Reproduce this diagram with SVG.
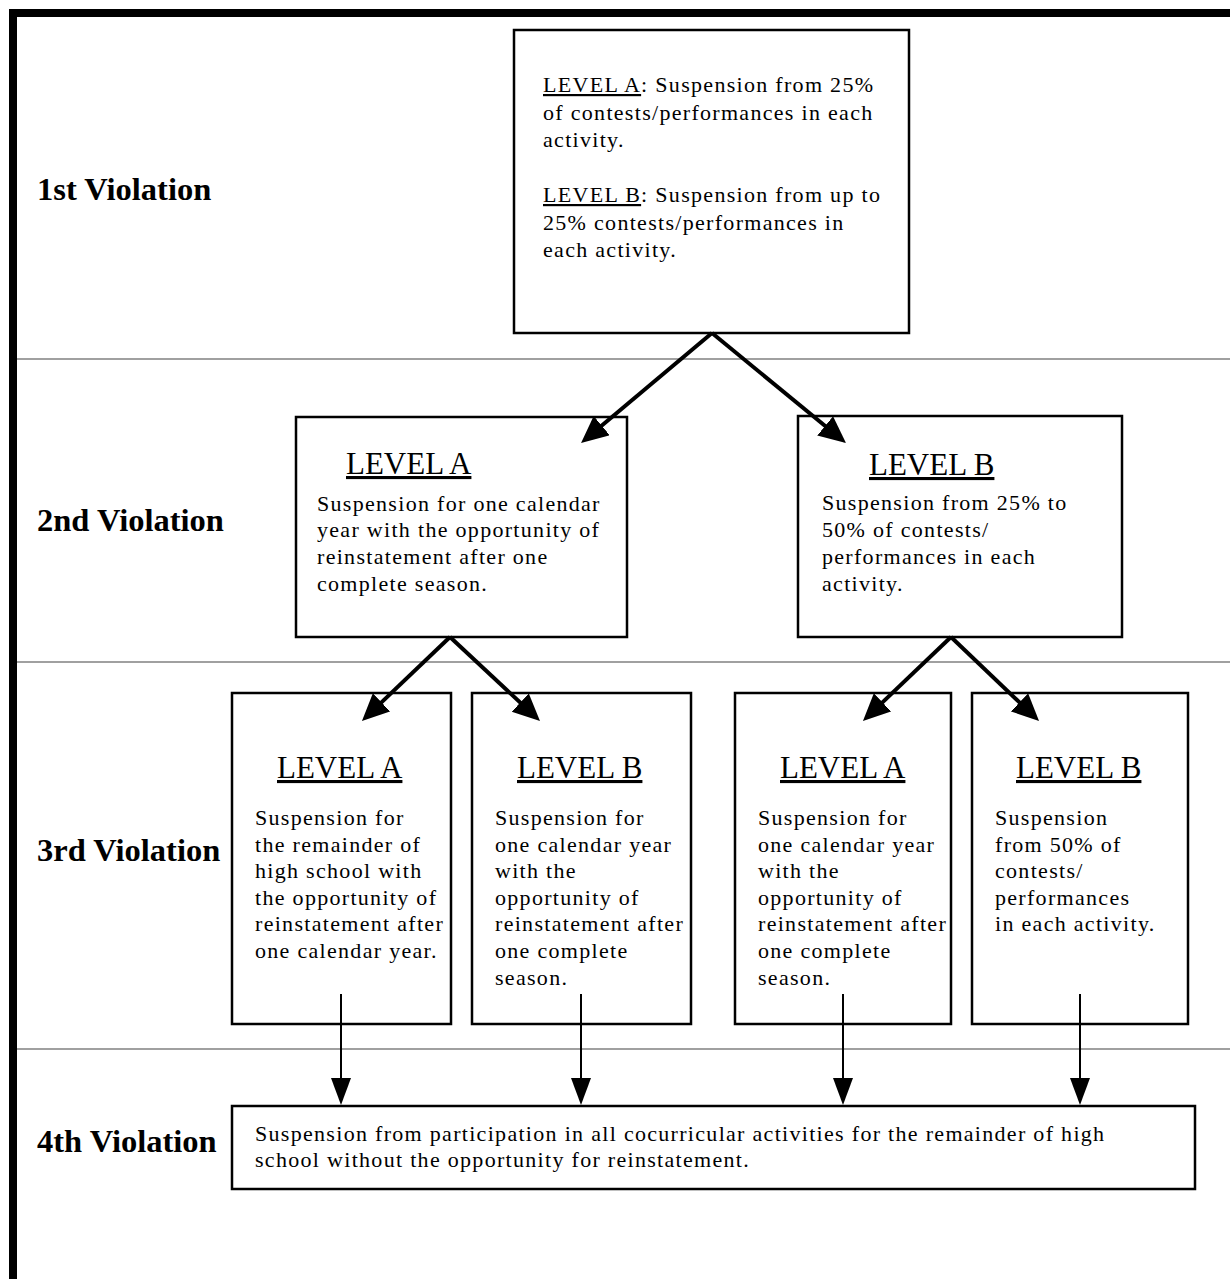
<svg xmlns="http://www.w3.org/2000/svg" width="1230" height="1279" viewBox="0 0 1230 1279">
<style>
  .box{fill:#fff;stroke:#000;stroke-width:2.5}
  .sep{stroke:#808080;stroke-width:1.5}
  .t{font-family:"Liberation Serif","Times New Roman",serif;fill:#000}
  .body{font-size:22px;letter-spacing:1.3px}
  .head{font-size:31px;text-decoration:underline}
  .u{text-decoration:underline}
  .lab{font-size:32.5px;font-weight:bold}
  .big{stroke:#000;stroke-width:4;fill:none}
  .thin{stroke:#000;stroke-width:2;fill:none}
</style>
<defs>
  <marker id="ah" markerUnits="userSpaceOnUse" markerWidth="28" markerHeight="26" refX="8" refY="12.5" orient="auto">
    <path d="M0,0 L27,12.5 L0,25 z" fill="#000"/>
  </marker>
  <marker id="ahs" markerUnits="userSpaceOnUse" markerWidth="28" markerHeight="22" refX="8" refY="10" orient="auto">
    <path d="M0,0 L27,10 L0,20 z" fill="#000"/>
  </marker>
</defs>
<rect width="1230" height="1279" fill="#fff"/>
<g id="frame">
  <rect x="9" y="9" width="1221" height="8" fill="#000"/>
  <rect x="9" y="9" width="8" height="1270" fill="#000"/>
  <line class="sep" x1="17" y1="359" x2="1230" y2="359"/>
  <line class="sep" x1="17" y1="662" x2="1230" y2="662"/>
  <line class="sep" x1="17" y1="1049" x2="1230" y2="1049"/>
</g>
<g id="labels" class="t lab">
  <text x="37" y="200">1st Violation</text>
  <text x="37" y="531">2nd Violation</text>
  <text x="37" y="861">3rd Violation</text>
  <text x="37" y="1152">4th Violation</text>
</g>
<g id="v1">
  <rect class="box" x="514" y="30" width="395" height="303"/>
  <g class="t body">
    <text x="543" y="92"><tspan class="u">LEVEL A</tspan>:  Suspension from 25%</text>
    <text x="543" y="120">of contests/performances in each</text>
    <text x="543" y="147">activity.</text>
    <text x="543" y="202"><tspan class="u">LEVEL B</tspan>:  Suspension from up to</text>
    <text x="543" y="230">25% contests/performances in</text>
    <text x="543" y="257">each activity.</text>
  </g>
</g>
<g id="v2a">
  <rect class="box" x="296" y="417" width="331" height="220"/>
  <text class="t head" x="346" y="474">LEVEL A</text>
  <g class="t body">
    <text x="317" y="511">Suspension for one calendar</text>
    <text x="317" y="537">year with the opportunity of</text>
    <text x="317" y="564">reinstatement after one</text>
    <text x="317" y="591">complete season.</text>
  </g>
</g>
<g id="v2b">
  <rect class="box" x="798" y="416" width="324" height="221"/>
  <text class="t head" x="869" y="475">LEVEL B</text>
  <g class="t body">
    <text x="822" y="510">Suspension from 25% to</text>
    <text x="822" y="537">50% of contests/</text>
    <text x="822" y="564">performances in each</text>
    <text x="822" y="591">activity.</text>
  </g>
</g>
<g id="v3a">
  <rect class="box" x="232" y="693" width="219" height="331"/>
  <text class="t head" x="277" y="778">LEVEL A</text>
  <g class="t body">
    <text x="255" y="825">Suspension for</text>
    <text x="255" y="852">the remainder of</text>
    <text x="255" y="878">high school with</text>
    <text x="255" y="905">the opportunity of</text>
    <text x="255" y="931">reinstatement after</text>
    <text x="255" y="958">one calendar year.</text>
  </g>
</g>
<g id="v3b">
  <rect class="box" x="472" y="693" width="219" height="331"/>
  <text class="t head" x="517" y="778">LEVEL B</text>
  <g class="t body">
    <text x="495" y="825">Suspension for</text>
    <text x="495" y="852">one calendar year</text>
    <text x="495" y="878">with the</text>
    <text x="495" y="905">opportunity of</text>
    <text x="495" y="931">reinstatement after</text>
    <text x="495" y="958">one complete</text>
    <text x="495" y="985">season.</text>
  </g>
</g>
<g id="v3c">
  <rect class="box" x="735" y="693" width="216" height="331"/>
  <text class="t head" x="780" y="778">LEVEL A</text>
  <g class="t body">
    <text x="758" y="825">Suspension for</text>
    <text x="758" y="852">one calendar year</text>
    <text x="758" y="878">with the</text>
    <text x="758" y="905">opportunity of</text>
    <text x="758" y="931">reinstatement after</text>
    <text x="758" y="958">one complete</text>
    <text x="758" y="985">season.</text>
  </g>
</g>
<g id="v3d">
  <rect class="box" x="972" y="693" width="216" height="331"/>
  <text class="t head" x="1016" y="778">LEVEL B</text>
  <g class="t body">
    <text x="995" y="825">Suspension</text>
    <text x="995" y="852">from 50% of</text>
    <text x="995" y="878">contests/</text>
    <text x="995" y="905">performances</text>
    <text x="995" y="931">in each activity.</text>
  </g>
</g>
<g id="v4">
  <rect class="box" x="232" y="1106" width="963" height="83"/>
  <g class="t body">
    <text x="255" y="1141">Suspension from participation in all cocurricular activities for the remainder of high</text>
    <text x="255" y="1167">school without the opportunity for reinstatement.</text>
  </g>
</g>
<g id="connectors">
  <line class="big" x1="712" y1="333" x2="595.6" y2="430.8" marker-end="url(#ah)"/>
  <line class="big" x1="712" y1="333" x2="831.3" y2="431" marker-end="url(#ah)"/>
  <line class="big" x1="450" y1="637" x2="375.7" y2="707.9" marker-end="url(#ah)"/>
  <line class="big" x1="450" y1="637" x2="526.1" y2="708" marker-end="url(#ah)"/>
  <line class="big" x1="951" y1="637" x2="876.7" y2="707.9" marker-end="url(#ah)"/>
  <line class="big" x1="951" y1="637" x2="1025.3" y2="707.9" marker-end="url(#ah)"/>
  <line class="thin" x1="341" y1="994" x2="341" y2="1086" marker-end="url(#ahs)"/>
  <line class="thin" x1="581" y1="994" x2="581" y2="1086" marker-end="url(#ahs)"/>
  <line class="thin" x1="843" y1="994" x2="843" y2="1086" marker-end="url(#ahs)"/>
  <line class="thin" x1="1080" y1="994" x2="1080" y2="1086" marker-end="url(#ahs)"/>
</g>
</svg>
